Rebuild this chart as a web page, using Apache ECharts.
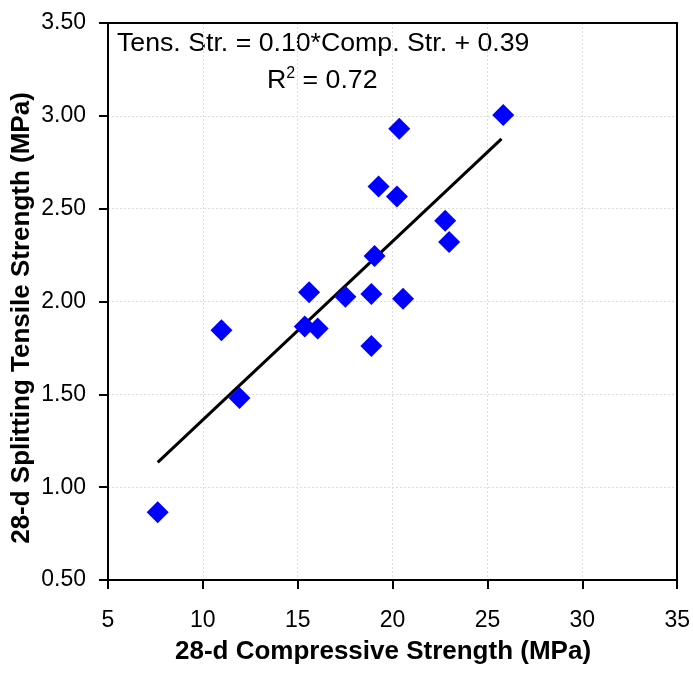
<!DOCTYPE html>
<html><head><meta charset="utf-8">
<script src="https://cdn.jsdelivr.net/npm/echarts@6/dist/echarts.min.js"></script>
<style>html,body{margin:0;padding:0;background:#fff}#c{width:693px;height:674px}</style>
</head><body><div id="c"></div>
<script>
const compStrength = [20.35, 19.26, 20.23, 19.05, 15.60, 17.51, 18.88, 20.55, 10.98, 15.37, 16.05, 18.88, 25.83, 22.77, 22.98, 11.93, 7.62];
const tensStrength = [2.93, 2.62, 2.565, 2.245, 2.05, 2.025, 2.04, 2.015, 1.845, 1.865, 1.855, 1.76, 3.005, 2.435, 2.32, 1.48, 0.865];
const trendX = [7.62, 25.74];
const trendY = [1.134, 2.876];
const xTicks = [5, 10, 15, 20, 25, 30, 35];
const yTicks = [0.5, 1.0, 1.5, 2.0, 2.5, 3.0, 3.5];
const xTitle = '28-d Compressive Strength (MPa)';
const yTitle = '28-d Splitting Tensile Strength (MPa)';
const eqText = 'Tens. Str. = 0.10*Comp. Str. + 0.39';
const r2Text = ' = 0.72';

const chart = echarts.init(document.getElementById('c'), null, {renderer: 'canvas'});
const font = 'Liberation Sans, Arial, sans-serif';
const grid = {left: 108, right: 15, top: 23, bottom: 94};
const frameAxis = {axisLine: {show: true, lineStyle: {color: '#000', width: 2}}, axisTick: {show: false}, axisLabel: {show: false}, splitLine: {show: false}};
chart.setOption({
  animation: false,
  backgroundColor: '#fff',
  grid: grid,
  xAxis: [{
    type: 'value', min: xTicks[0], max: xTicks[xTicks.length - 1], interval: 5,
    axisLine: {lineStyle: {color: '#000', width: 2}},
    axisTick: {show: true, inside: false, length: 9, lineStyle: {color: '#000', width: 2}},
    axisLabel: {fontFamily: font, fontSize: 23, color: '#000', margin: 29},
    splitLine: {show: true, lineStyle: {color: '#dcdcdc', type: [2, 2], width: 1}}
  }, Object.assign({type: 'value', position: 'top', min: xTicks[0], max: xTicks[xTicks.length - 1]}, frameAxis)],
  yAxis: [{
    type: 'value', min: yTicks[0], max: yTicks[yTicks.length - 1], interval: 0.5,
    axisLine: {lineStyle: {color: '#000', width: 2}},
    axisTick: {show: true, inside: false, length: 9, lineStyle: {color: '#000', width: 2}},
    axisLabel: {fontFamily: font, fontSize: 23, color: '#000', margin: 22, formatter: v => v.toFixed(2)},
    splitLine: {show: true, lineStyle: {color: '#dcdcdc', type: [2, 2], width: 1}}
  }, Object.assign({type: 'value', position: 'right', min: yTicks[0], max: yTicks[yTicks.length - 1]}, frameAxis)],
  series: [
    {
      type: 'line', data: trendX.map((x, i) => [x, trendY[i]]),
      symbol: 'none', lineStyle: {color: '#000', width: 3}, z: 2
    },
    {
      type: 'scatter', data: compStrength.map((x, i) => [x, tensStrength[i]]),
      symbol: 'diamond', symbolSize: [22, 22], itemStyle: {color: '#0000FF', opacity: 1}, z: 3
    }
  ],
  graphic: [
    {type: 'text', left: 117, top: 30, style: {text: eqText, font: '26.7px ' + font, fill: '#000'}},
    {type: 'text', left: 267, top: 66, style: {
      text: '{a|R}{s|2}{a|' + r2Text + '}',
      rich: {a: {fontFamily: font, fontSize: 26.7, fill: '#000', verticalAlign: 'bottom'},
             s: {fontFamily: font, fontSize: 16, fill: '#000', verticalAlign: 'top', padding: [0, 0, 12, 0]}}
    }},
    {type: 'text', x: 383, y: 652, style: {text: xTitle, font: 'bold 26px ' + font, fill: '#000', align: 'center', verticalAlign: 'middle'}},
    {type: 'text', x: 22, y: 318, rotation: Math.PI / 2, style: {text: yTitle, font: 'bold 26px ' + font, fill: '#000', align: 'center', verticalAlign: 'middle'}}
  ]
});
</script></body></html>
